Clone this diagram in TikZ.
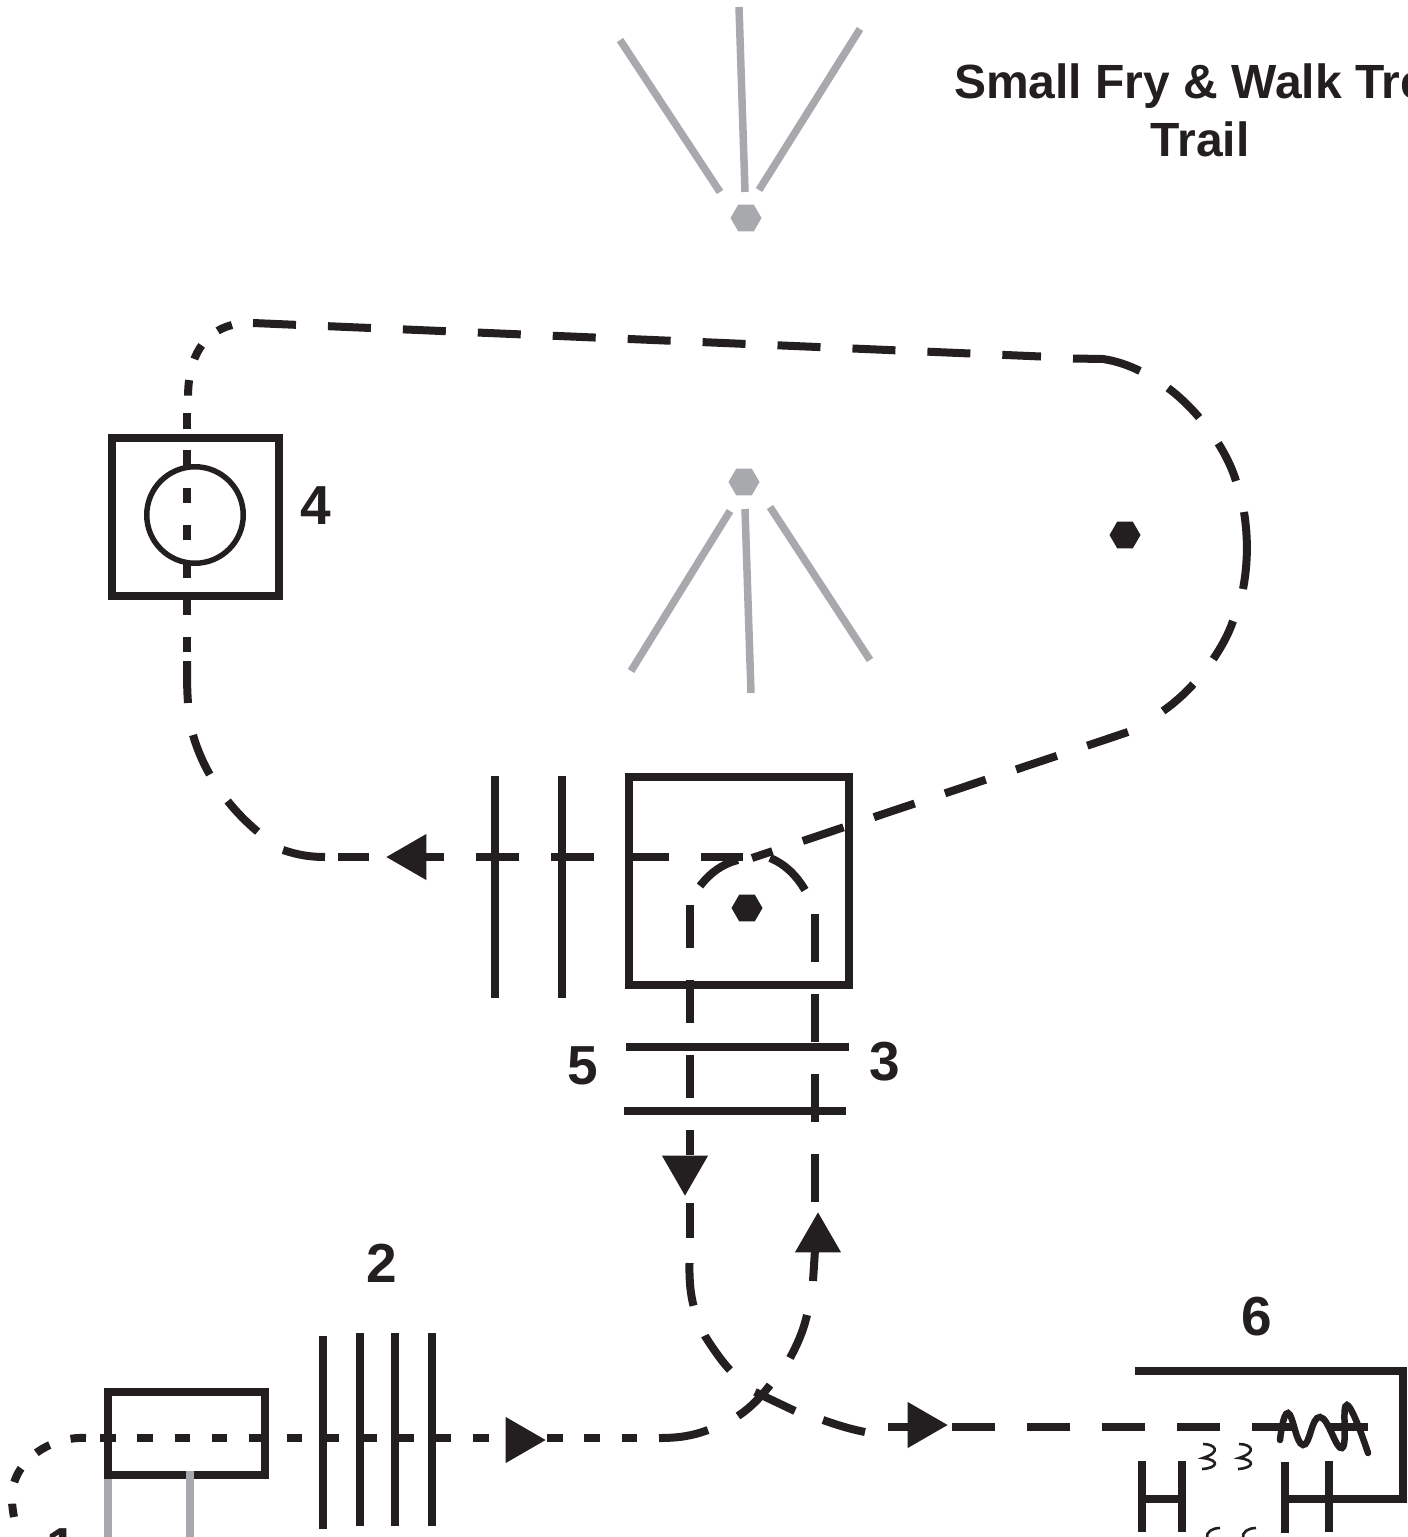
\documentclass[tikz,border=0pt]{standalone}
\usepackage{fontspec}
\setmainfont{Liberation Sans}
\usetikzlibrary{shapes.geometric, positioning}
\definecolor{ink}{HTML}{231F20}
\definecolor{pale}{HTML}{A7A9AC}
\begin{document}
\begin{tikzpicture}[x=1pt,y=-1pt,
    trail/.style={ink,line width=8pt,dash pattern=on 43pt off 32pt},
    shorttrail/.style={ink,line width=8pt,dash pattern=on 15.5pt off 21.8pt},
    bar/.style={ink,line width=8pt},
    pole/.style={pale,line width=7.5pt},
    box/.style={draw=ink,line width=8pt,inner sep=0pt},
    pin/.style={regular polygon,regular polygon sides=6,fill=#1,inner sep=0pt,minimum size=31pt},
    num/.style={font=\bfseries\fontsize{55}{55}\selectfont,text=ink,inner sep=0pt},
    tip/.style={fill=ink,isosceles triangle,isosceles triangle apex angle=60,inner sep=0pt,minimum height=40pt,minimum width=46pt},
    curl/.style={ink,line width=2.6pt},
    ttl/.style={font=\bfseries\fontsize{48}{48}\selectfont,text=ink,inner sep=0pt}]
  \useasboundingbox (0,0) rectangle (1408,1537);
  \clip (0,0) rectangle (1408,1537);

  \node[ttl,anchor=base west] (title) at (954,98) {Small Fry \& Walk Tree};
  \node[ttl,anchor=base] (titleb) at (1200,156) {Trail};

  % grey fans
  \node[pin=pale] (hubtop) at (746,218) {};
  \coordinate (t1) at (620,40);
  \coordinate (t2) at (739,7);
  \coordinate (t3) at (860,29);
  \draw[pole] (720,192) -- (t1);
  \draw[pole] (745,192) -- (t2);
  \draw[pole] (759,190) -- (t3);
  \node[pin=pale] (hubmid) at (744,482) {};
  \coordinate (m1) at (631,671);
  \coordinate (m2) at (751,693);
  \coordinate (m3) at (870,660);
  \draw[pole] (730,511) -- (m1);
  \draw[pole] (745,509) -- (m2);
  \draw[pole] (770,507) -- (m3);

  % boxes
  \node[box,minimum width=167pt,minimum height=158pt] (gate4) at (195.5,517) {};
  \node[circle,draw=ink,line width=5.5pt,minimum size=96.5pt,inner sep=0pt] (ring4) at (195,515) {};
  \node[box,minimum width=220pt,minimum height=208pt] (gate5) at (739,881) {};
  \node[box,minimum width=157pt,minimum height=83pt] (gate1) at (186,1433.5) {};
  \node[pin=ink] (hubright) at (1125,535) {};
  \node[pin=ink] (hubgate) at (747,908) {};

  % bars
  \foreach \x in {495,562} \draw[bar] (\x,776) -- (\x,998);
  \draw[bar] (626,1047) -- (849,1047);
  \draw[bar] (624,1111) -- (846,1111);
  \draw[bar] (323,1336) -- (323,1529);
  \foreach \x in {360,395,432} \draw[bar] (\x,1333) -- (\x,1526);
  \draw[pole] (108,1479) -- (108,1537);
  \draw[pole] (190,1471) -- (190,1537);

  % right hand gate
  \draw[bar] (1135,1371) -- (1403,1371) -- (1403,1498.5) -- (1285,1498.5);
  \draw[bar] (1142,1461) -- (1142,1532) (1182,1461) -- (1182,1532) (1142,1498.5) -- (1182,1498.5);
  \draw[bar] (1285,1462) -- (1285,1533) (1329,1461) -- (1329,1532);

  % upper loop
  \draw[trail] (253,323) -- (1041,356.5);
  \draw[bar] (1073,358.5) -- (1103,359) .. controls (1116,361) and (1128,365) .. (1140,371);
  \draw[trail] (1168,388) .. controls (1195,408) and (1225,445) .. (1236,481);
  \draw[bar] (1244,512) .. controls (1248,537) and (1248,563) .. (1243,589);
  \draw[trail] (1233,621) .. controls (1225,645) and (1200,685) .. (1163,711);
  \draw[trail] (1128,732) -- (752,858);
  \draw[shorttrail] (232,325) .. controls (205,332) and (188,355) .. (188,398);
  \draw[shorttrail] (187,413) -- (187,653);
  \draw[bar] (187,661) .. controls (187,677) and (187,690) .. (188,703);
  \draw[trail] (193,735) .. controls (206,780) and (238,822) .. (283,850);
  \draw[bar] (283,850) .. controls (298,855) and (310,857) .. (325,857);
  \draw[bar] (338,857) -- (369,857) (425,857) -- (444,857);
  \draw[trail] (476,857) -- (743,857);
  \node[tip,shape border rotate=180,anchor=apex] (tipleft) at (386,857) {};

  % gate arc and the two legs
  \draw[bar] (738,860) .. controls (722,864) and (710,873) .. (700,886);
  \draw[bar] (770,858) .. controls (785,864) and (796,875) .. (805,890);
  \draw[trail] (689.5,905) -- (689.5,1155);
  \node[tip,shape border rotate=270,anchor=apex] (tipdown) at (685,1196) {};
  \draw[bar] (689.5,1203) -- (689.5,1238);
  \draw[trail] (689.5,1263) .. controls (689,1290) and (692,1310) .. (705,1336) .. controls (715,1352) and (725,1365) .. (730,1370);
  \draw[bar] (755,1392) -- (795,1411);
  \draw[bar] (823,1420) .. controls (837,1425) and (850,1429) .. (865,1432);
  \draw[bar] (888,1427) -- (910,1427);
  \node[tip,anchor=apex] (tipright) at (948,1425) {};
  \draw[trail] (952,1427) -- (1368,1427);

  \draw[bar] (815,914) -- (815,962) (815,994) -- (815,1042) (815,1074) -- (815,1122) (815,1154) -- (815,1202);
  \node[tip,shape border rotate=90,anchor=apex] (tipup) at (818,1212) {};
  \draw[bar] (815,1250) -- (813,1281);
  \draw[bar] (807,1315) .. controls (803,1332) and (797,1345) .. (790,1358);
  \draw[bar] (770,1385) .. controls (760,1398) and (750,1408) .. (738,1416);
  \draw[bar] (708,1430) .. controls (692,1436) and (678,1438) .. (659,1438);

  % lower dashes
  \draw[shorttrail] (100,1438) -- (510,1438);
  \node[tip,anchor=apex] (tipgate) at (546,1440) {};
  \draw[shorttrail] (547,1438) -- (640,1438);
  \draw[shorttrail] (86,1438) .. controls (50,1436) and (10,1462) .. (12,1500) .. controls (12,1505) and (13,1512) .. (14,1517);

  % squiggles
  \draw[ink,line width=6.5pt,line cap=round] plot[smooth,tension=0.8] coordinates {(1280,1440) (1288,1413) (1303,1445) (1320,1417) (1342,1448) (1347,1405) (1368,1453)};
  \foreach \x in {0,36} {
    \draw[curl] (1203+\x,1444) .. controls (1215+\x,1444) and (1222+\x,1452) .. (1203+\x,1458) .. controls (1220+\x,1460) and (1218+\x,1468) .. (1202+\x,1469);
    \draw[curl] (1220+\x,1528) .. controls (1212+\x,1528) and (1206+\x,1532) .. (1207+\x,1538);
  }

  % numbers
  \node[num] (n4) at (316,506) {4};
  \node[num] (n5) at (583,1066) {5};
  \node[num] (n3) at (885,1062) {3};
  \node[num] (n2) at (382,1263) {2};
  \node[num] (n6) at (1257,1317) {6};
  \node[num,anchor=north] (n1) at (62,1528) {1};
\end{tikzpicture}
\end{document}
